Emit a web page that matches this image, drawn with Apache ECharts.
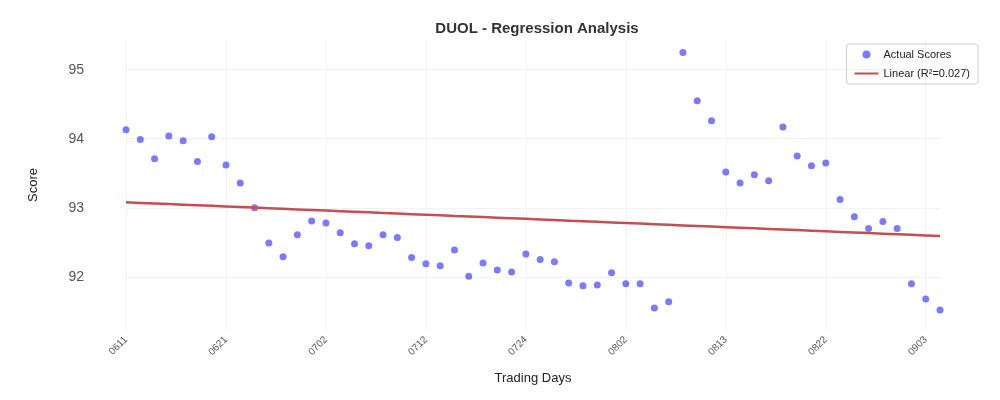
<!DOCTYPE html>
<html><head><meta charset="utf-8">
<script src="https://cdn.jsdelivr.net/npm/echarts@6/dist/echarts.min.js"></script>
<style>html,body{margin:0;background:#fff}#main{width:1000px;height:400px}</style>
</head><body><div id="main"></div>
<script>
const days = ['0611','0612','0613','0616','0617','0618','0620','0621','0623','0624','0625','0626','0627','0630',
  '0702','0703','0705','0707','0708','0709','0710','0712','0714','0715','0716','0717','0718','0721',
  '0724','0725','0728','0729','0730','0731','0801','0802','0804','0805','0806','0807','0808','0811',
  '0813','0814','0815','0818','0819','0820','0821','0822','0825','0826','0827','0828','0829','0902',
  '0903','0904'];
const scores = [94.13,93.99,93.71,94.04,93.97,93.67,94.03,93.62,93.36,93.00,92.49,92.29,92.61,92.81,
  92.78,92.64,92.48,92.45,92.61,92.57,92.28,92.19,92.16,92.39,92.01,92.20,92.10,92.07,
  92.33,92.25,92.22,91.91,91.87,91.88,92.06,91.90,91.90,91.55,91.64,95.25,94.55,94.26,
  93.52,93.36,93.48,93.39,94.17,93.75,93.61,93.65,93.12,92.87,92.70,92.80,92.70,91.90,
  91.68,91.52];
const yTicks = [92, 93, 94, 95];
const fitLabel = 'Linear (R²=0.027)';

// least squares fit
const n = scores.length;
const mx = (n - 1) / 2;
const my = scores.reduce((a, b) => a + b, 0) / n;
let sxy = 0, sxx = 0;
scores.forEach((y, i) => { sxy += (i - mx) * (y - my); sxx += (i - mx) ** 2; });
const slope = sxy / sxx, icpt = my - slope * mx;
const fit = scores.map((_, i) => +(icpt + slope * i).toFixed(4));

var myChart = echarts.init(document.getElementById('main'));
option = {
  textStyle: { fontFamily: 'Liberation Sans, Arial, sans-serif' },
  title: { text: 'DUOL - Regression Analysis', left: 532, textAlign: 'center', top: 16,
    textStyle: { fontSize: 15, fontWeight: 'bold', color: '#333' } },
  legend: {
    right: 22, top: 44, orient: 'vertical', itemGap: 8, itemWidth: 24, itemHeight: 8,
    borderColor: '#ccc', borderWidth: 1, borderRadius: 3, padding: [5, 8],
    textStyle: { fontSize: 11, color: '#222' },
    data: [
      { name: 'Actual Scores', icon: 'circle' },
      { name: fitLabel, icon: 'path://M0,0H24V2H0Z' }
    ]
  },
  grid: { left: 126, right: 60, top: 40, bottom: 70 },
  xAxis: {
    type: 'category', data: days, boundaryGap: false,
    name: 'Trading Days', nameLocation: 'middle', nameGap: 42,
    nameTextStyle: { fontSize: 13, color: '#222' },
    axisLine: { show: false }, axisTick: { show: false, interval: 6 },
    axisLabel: { interval: 6, rotate: 45, fontSize: 10, color: '#555' },
    splitLine: { show: true, interval: 6, lineStyle: { color: '#f2f2f2' } }
  },
  yAxis: {
    type: 'value', min: 91.23, max: 95.43,
    name: 'Score', nameLocation: 'middle', nameGap: 86,
    nameTextStyle: { fontSize: 13, color: '#222' },
    axisLine: { show: false }, axisTick: { show: false, customValues: yTicks },
    axisLabel: { customValues: yTicks, fontSize: 14, color: '#555', margin: 42 },
    splitLine: { show: true, lineStyle: { color: '#f2f2f2' } }
  },
  series: [
    { name: 'Actual Scores', type: 'scatter', data: scores, symbolSize: 7,
      itemStyle: { color: 'rgba(20,20,255,0.7)' } },
    { name: fitLabel, type: 'line', data: fit, symbol: 'none',
      lineStyle: { color: '#c44e52', width: 2.5 }, itemStyle: { color: '#c44e52' } }
  ]
};
myChart.setOption(option);
</script></body></html>
